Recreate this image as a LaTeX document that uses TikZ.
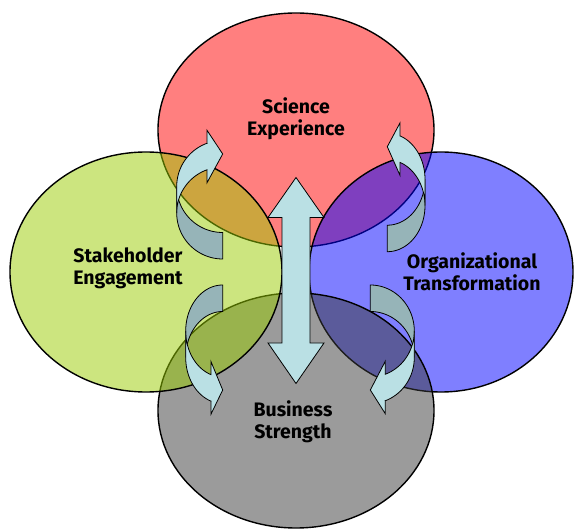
\documentclass[tikz,border=0pt]{standalone}
\usepackage{fontspec}
\setmainfont{Fira Sans}
\usetikzlibrary{shapes.geometric}

\definecolor{redbase}{RGB}{255,0,0}
\definecolor{bluebase}{RGB}{0,0,255}
\definecolor{greenbase}{RGB}{153,204,0}
\definecolor{graybase}{RGB}{56,56,56}
\definecolor{arrowlight}{RGB}{186,224,228}
\definecolor{arrowdark}{RGB}{150,180,184}

\tikzset{
  area/.style={ellipse, draw=black, line width=1.4pt, fill opacity=0.5, inner sep=0pt},
  areatext/.style={font=\fontsize{19.5}{22}\selectfont\bfseries, text=black, anchor=base, inner sep=0pt},
  arrowbody/.style={draw=black, line width=0.8pt, line join=miter},
}

% Curved arrow: tail at the origin, band bending out to x=-#1,
% head (length #2) at the top pointing towards +x.
\newcommand\bentarrow[2]{%
  \pgfmathsetmacro\arcW{#1}%
  \pgfmathsetmacro\arcH{#2}%
  \pgfmathsetmacro\arcT{180+acos(\arcH/\arcW)}%
  \pgfmathsetmacro\arcJa{-46-46*sqrt(1-(\arcH/\arcW)^2)}%
  \pgfmathsetmacro\arcJb{\arcJa-26.5}%
  \filldraw[arrowbody, fill=arrowdark]
    plot[domain=90:180, samples=40] ({\arcW*cos(\x)}, {-46+46*sin(\x)})
    -- plot[domain=180:90, samples=40] ({\arcW*cos(\x)}, {-72.5+46*sin(\x)})
    -- cycle;
  \filldraw[arrowbody, fill=arrowlight]
    plot[domain=180:\arcT, samples=40] ({\arcW*cos(\x)}, {-46+46*sin(\x)})
    -- (-\arcH, \arcJa+13) -- (0,-105) -- (-\arcH, \arcJb-13) -- (-\arcH, \arcJb)
    -- plot[domain=\arcT:180, samples=40] ({\arcW*cos(\x)}, {-72.5+46*sin(\x)})
    -- cycle;
}

\begin{document}
\begin{tikzpicture}[x=1pt, y=-1pt]
  \useasboundingbox (0,0) rectangle (574,529);

  % the four overlapping areas
  \node[area, fill=redbase,   minimum width=276pt, minimum height=234pt] (science)  at (296,130)   {};
  \node[area, fill=bluebase,  minimum width=264pt, minimum height=240pt] (organiz)  at (441,272)   {};
  \node[area, fill=graybase,  minimum width=276pt, minimum height=235pt] (business) at (296,410.5) {};
  \node[area, fill=greenbase, minimum width=272pt, minimum height=240pt] (stake)    at (146,272)   {};

  % curved arrows between neighbouring areas
  \begin{scope}[shift={(222.7,259)}]
    \bentarrow{46}{15.7}
  \end{scope}
  \begin{scope}[shift={(387.3,251.7)}, xscale=-1]
    \bentarrow{37.7}{12.7}
  \end{scope}
  \begin{scope}[shift={(222.7,285)}, yscale=-1]
    \bentarrow{37}{11.7}
  \end{scope}
  \begin{scope}[shift={(370.3,285)}, xscale=-1, yscale=-1]
    \bentarrow{44}{15}
  \end{scope}

  % vertical double arrow through the middle
  \filldraw[arrowbody, fill=arrowlight]
    (296,177.5) -- (324,217.5) -- (310,217.5) -- (310,343) -- (324,343)
    -- (296,383.5) -- (268,343) -- (282,343) -- (282,217.5) -- (268,217.5) -- cycle;

  % labels
  \node[areatext] (sci1) at (296,114) {Science};
  \node[areatext] (sci2) at (296,136) {Experience};
  \node[areatext] (stk1) at (128,262.5) {Stakeholder};
  \node[areatext] (stk2) at (128,285) {Engagement};
  \node[areatext] (org1) at (472,269) {Organizational};
  \node[areatext] (org2) at (472,291) {Transformation};
  \node[areatext] (bus1) at (293,417) {Business};
  \node[areatext] (bus2) at (293,439) {Strength};
\end{tikzpicture}
\end{document}
